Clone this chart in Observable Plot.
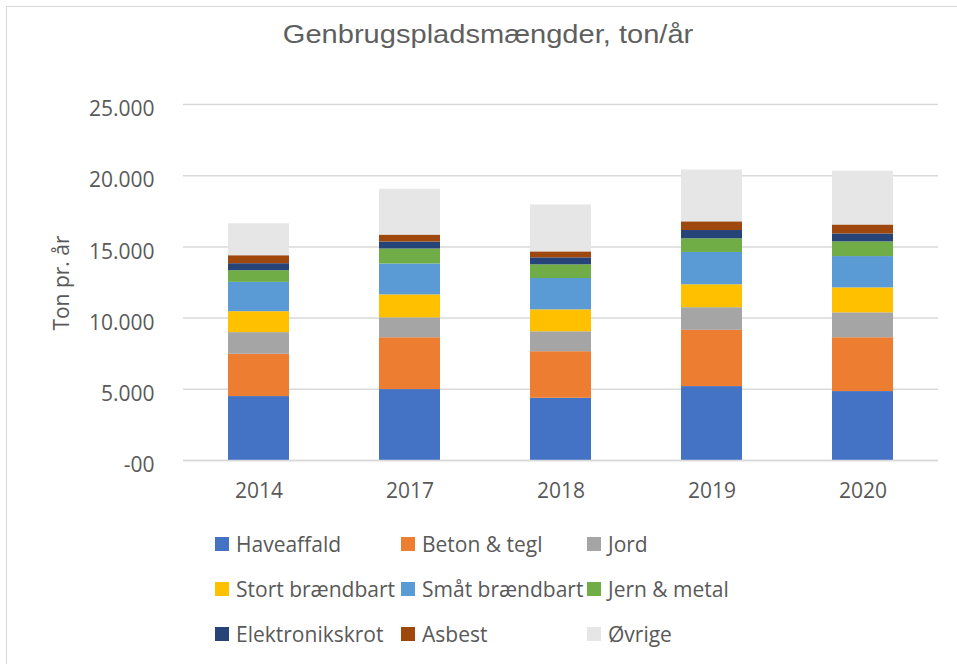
<!DOCTYPE html>
<html>
<head>
<meta charset="utf-8">
<script src="https://cdn.jsdelivr.net/npm/d3@7"></script>
<script src="https://cdn.jsdelivr.net/npm/@observablehq/plot@0.6"></script>
<style>
  html, body { margin: 0; padding: 0; background: #fff; overflow: hidden; }
  #wrap { position: relative; width: 957px; height: 664px; overflow: hidden; font-family: "Open Sans", sans-serif; color: #595959; }
  #frame { position: absolute; left: 6px; top: 6px; width: 980px; height: 700px; border: 1.5px solid #d9d9d9; box-sizing: border-box; }
  #title { position: absolute; left: 10px; width: 957px; top: 20px; text-align: center; }
  #title span { display: inline-block; font-family: "Liberation Sans", Arial, sans-serif; font-size: 25.5px; transform: scaleX(1.14); transform-origin: center; color: #5f5f5f; }
  #ylabel { position: absolute; left: 61px; top: 283px; transform: translate(-50%, -50%) rotate(-90deg); font-size: 21px; white-space: nowrap; }
  #plot { position: absolute; left: 0; top: 0; }
  .leg { position: absolute; display: flex; align-items: center; font-size: 21px; line-height: 28px; white-space: nowrap; }
  .sw { width: 14px; height: 14px; margin-right: 7px; flex: none; }
</style>
</head>
<body>
<div id="wrap">
  <div id="frame"></div>
  <div id="plot"></div>
  <div id="title"><span>Genbrugspladsmængder, ton/år</span></div>
  <div id="ylabel">Ton pr. år</div>
  <div id="legend"></div>
</div>
<script>
const years = ["2014", "2017", "2018", "2019", "2020"];
const seriesNames = ["Haveaffald", "Beton & tegl", "Jord", "Stort brændbart", "Småt brændbart", "Jern & metal", "Elektronikskrot", "Asbest", "Øvrige"];
const seriesColors = ["#4472C4", "#ED7D31", "#A5A5A5", "#FFC000", "#5B9BD5", "#70AD47", "#264478", "#9E480E", "#E7E6E6"];

const haveaffald = [4490, 4980, 4370, 5190, 4840];
const betonTegl = [2970, 3640, 3270, 3950, 3780];
const jord = [1520, 1400, 1400, 1590, 1750];
const stortBraendbart = [1470, 1610, 1540, 1610, 1750];
const smaatBraendbart = [2060, 2170, 2200, 2270, 2200];
const jernMetal = [820, 1050, 960, 960, 1030];
const elektronikskrot = [490, 490, 490, 580, 560];
const asbest = [560, 490, 420, 610, 630];
const ovrige = [2240, 3220, 3290, 3640, 3780];

const yTicks = [0, 5000, 10000, 15000, 20000, 25000];

const seriesValues = [haveaffald, betonTegl, jord, stortBraendbart, smaatBraendbart, jernMetal, elektronikskrot, asbest, ovrige];

const data = [];
seriesNames.forEach((s, i) => {
  years.forEach((y, j) => data.push({ year: y, series: s, value: seriesValues[i][j] }));
});

const fmt = d => d === 0 ? "-00" : d3.format(",")(d).replace(/,/g, ".");

const chart = Plot.plot({
  width: 957,
  height: 520,
  marginLeft: 183,
  marginRight: 19,
  marginTop: 104,
  marginBottom: 60,
  style: { fontFamily: "Open Sans, sans-serif", fontSize: "21px", color: "#595959", background: "transparent" },
  x: { domain: years, paddingInner: 0.596, paddingOuter: 0.298, label: null },
  y: { domain: [0, 25000], label: null },
  color: { domain: seriesNames, range: seriesColors },
  marks: [
    Plot.gridY(yTicks, { stroke: "#d9d9d9", strokeOpacity: 1, strokeWidth: 1.5 }),
    Plot.barY(data, Plot.stackY({ x: "year", y: "value", fill: "series", order: null })),
    Plot.ruleY([0], { stroke: "#d9d9d9", strokeWidth: 1.5 }),
    Plot.axisY({ ticks: yTicks, tickFormat: fmt, tickSize: 0, tickPadding: 29, dy: 5, label: null }),
    Plot.axisX({ tickSize: 0, tickPadding: 23, label: null })
  ]
});
document.getElementById("plot").appendChild(chart);

const legendPos = [
  [215, 543.7], [401, 543.7], [587, 543.7],
  [215, 589], [401, 589], [587, 589],
  [215, 633.7], [401, 633.7], [587, 633.7]
];
const leg = document.getElementById("legend");
seriesNames.forEach((s, i) => {
  const d = document.createElement("div");
  d.className = "leg";
  d.style.left = legendPos[i][0] + "px";
  d.style.top = (legendPos[i][1] - 14) + "px";
  const sw = document.createElement("span");
  sw.className = "sw";
  sw.style.background = seriesColors[i];
  const t = document.createElement("span");
  t.textContent = s;
  d.appendChild(sw);
  d.appendChild(t);
  leg.appendChild(d);
});
</script>
</body>
</html>
